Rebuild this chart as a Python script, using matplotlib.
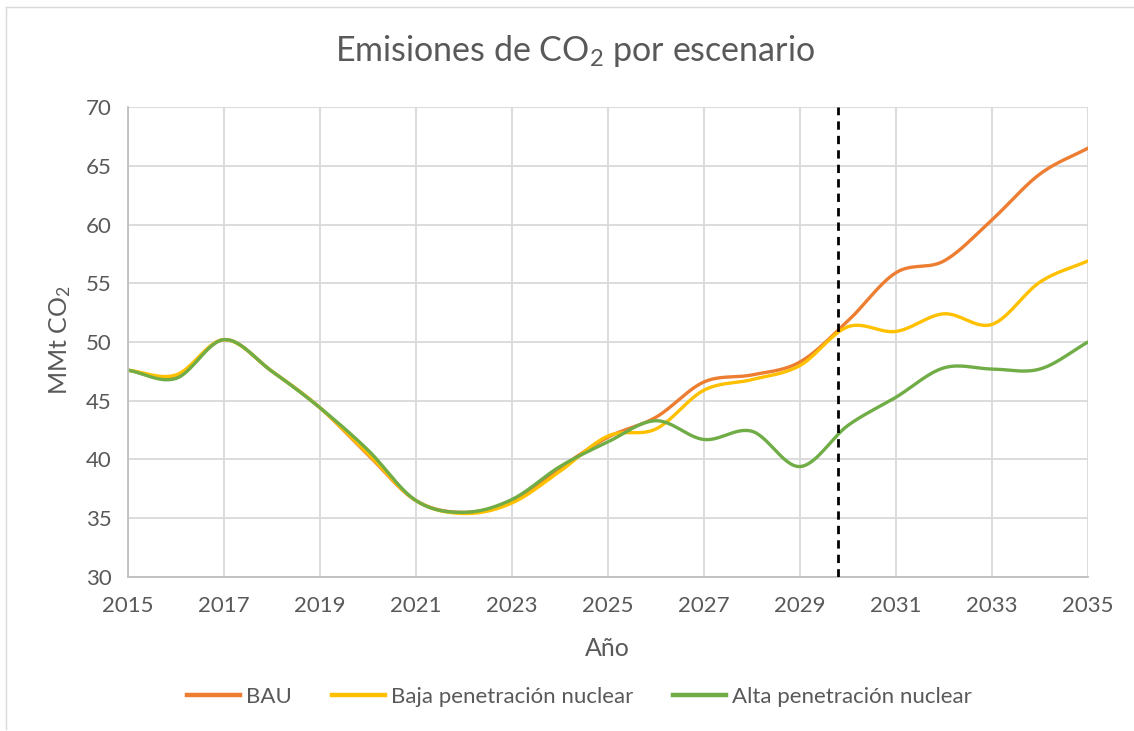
import numpy as np
import matplotlib
matplotlib.use("Agg")
import matplotlib.pyplot as plt
from matplotlib.lines import Line2D

plt.rcParams['font.family'] = ['Lato', 'DejaVu Sans']
plt.rcParams['mathtext.fontset'] = 'custom'
plt.rcParams['mathtext.rm'] = 'Lato'
plt.rcParams['mathtext.it'] = 'Lato:italic'

years = list(range(2015, 2036))
bau = [47.6, 47.0, 50.2, 47.5, 44.4, 40.4, 36.5, 35.5, 36.5, 39.3, 41.9,
       43.6, 46.6, 47.2, 48.3, 51.8, 55.9, 56.9, 60.4, 64.3, 66.5]
baja = [47.6, 47.2, 50.2, 47.5, 44.4, 40.5, 36.5, 35.4, 36.3, 39.0, 42.0,
        42.6, 45.9, 46.8, 48.0, 51.3, 50.9, 52.4, 51.5, 55.1, 56.9]
alta = [47.6, 46.9, 50.2, 47.5, 44.4, 40.8, 36.5, 35.5, 36.6, 39.4, 41.5,
        43.3, 41.7, 42.4, 39.4, 42.9, 45.3, 47.8, 47.7, 47.7, 50.0]
series_names = ['BAU', 'Baja penetración nuclear', 'Alta penetración nuclear']
cutoff_year = 2029.8

colors = ['#ED7D31', '#FFC000', '#70AD47']
text_color = '#595959'


def smooth(x, y, n=30):
    """Catmull-Rom curve through the points, like Excel's smoothed line."""
    x = np.asarray(x, float)
    y = np.asarray(y, float)
    px = np.concatenate([[2 * x[0] - x[1]], x, [2 * x[-1] - x[-2]]])
    py = np.concatenate([[2 * y[0] - y[1]], y, [2 * y[-1] - y[-2]]])
    xs, ys = [], []
    t = np.linspace(0, 1, n, endpoint=False)
    for i in range(1, len(px) - 2):
        for arr, out in ((px, xs), (py, ys)):
            p0, p1, p2, p3 = arr[i - 1], arr[i], arr[i + 1], arr[i + 2]
            out.extend(0.5 * (2 * p1 + (-p0 + p2) * t
                              + (2 * p0 - 5 * p1 + 4 * p2 - p3) * t ** 2
                              + (-p0 + 3 * p1 - 3 * p2 + p3) * t ** 3))
    xs.append(x[-1])
    ys.append(y[-1])
    return np.array(xs), np.array(ys)


fig = plt.figure(figsize=(11.34, 7.31), dpi=100)
ax = fig.add_axes([0.1129, 0.2107, 0.8465, 0.6429])

for vals, name, c in zip([bau, baja, alta], series_names, colors):
    sx, sy = smooth(years, vals)
    ax.plot(sx, sy, color=c, lw=2.4, solid_capstyle='round', label=name)

ax.axvline(cutoff_year, color='black', lw=2, ls=(0, (3, 2.2)), zorder=5)

ax.set_xlim(2015, 2035)
ax.set_ylim(30, 70)
ax.set_xticks(range(2015, 2036, 2))
ax.set_yticks(range(30, 71, 5))
ax.grid(True, color='#D9D9D9', lw=1.3)
ax.set_axisbelow(True)
for s in ['top', 'right']:
    ax.spines[s].set_visible(False)
for s in ['left', 'bottom']:
    ax.spines[s].set_color('#BFBFBF')
    ax.spines[s].set_linewidth(1.3)
ax.tick_params(length=0, labelsize=16, colors=text_color)
ax.tick_params(axis='x', pad=14)
ax.tick_params(axis='y', pad=12)

# titles and axis labels placed in figure coords
fig.text(0.507, 0.930, r'Emisiones de CO$_\mathrm{2}$ por escenario', fontsize=24.5,
         color=text_color, ha='center', va='center')
fig.text(0.536, 0.113, 'Año', fontsize=18, color=text_color, ha='center', va='center')
fig.text(0.053, 0.535, r'MMt CO$_\mathrm{2}$', fontsize=18, color=text_color,
         ha='center', va='center', rotation=90)

handles = [Line2D([], [], color=c, lw=3.2) for c in colors]
fig.legend(handles, series_names, loc='center', bbox_to_anchor=(0.511, 0.0465),
           ncol=3, frameon=False, fontsize=16, labelcolor=text_color,
           handlelength=2.4, columnspacing=1.8, handletextpad=0.25)

# chart border (left and top edges visible in the crop)
fig.add_artist(Line2D([0.005, 0.005], [0.003, 0.991], transform=fig.transFigure,
                      color='#D9D9D9', lw=1))
fig.add_artist(Line2D([0.005, 1.0], [0.991, 0.991], transform=fig.transFigure,
                      color='#D9D9D9', lw=1))

fig.savefig('out.png', dpi=100)
